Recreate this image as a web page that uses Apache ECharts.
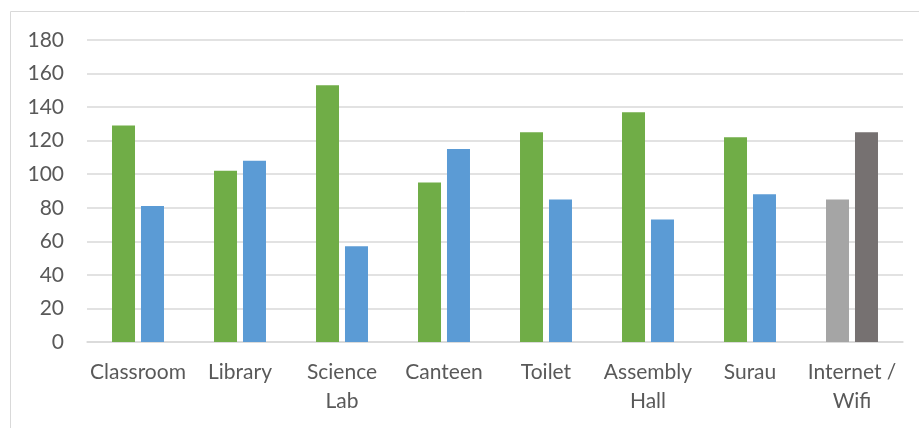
<!DOCTYPE html>
<html>
<head>
<meta charset="utf-8">
<script src="https://cdn.jsdelivr.net/npm/echarts@6/dist/echarts.min.js"></script>
<style>html,body{margin:0;padding:0;background:#fff;}#c{width:919px;height:428px;}</style>
</head>
<body>
<div id="c"></div>
<script>
var categories = ['Classroom', 'Library', 'Science Lab', 'Canteen', 'Toilet', 'Assembly Hall', 'Surau', 'Internet / Wifi'];
var series1Values = [129, 102, 153, 95, 125, 137, 122, 85];
var series2Values = [81, 108, 57, 115, 85, 73, 88, 125];
var series1Colors = ['#70AD47', '#70AD47', '#70AD47', '#70AD47', '#70AD47', '#70AD47', '#70AD47', '#A5A5A5'];
var series2Colors = ['#5B9BD5', '#5B9BD5', '#5B9BD5', '#5B9BD5', '#5B9BD5', '#5B9BD5', '#5B9BD5', '#767171'];
var yTicks = { min: 0, max: 180, interval: 20 };

function build(values, colors) {
  return values.map(function (v, i) { return { value: v, itemStyle: { color: colors[i] } }; });
}

var chart = echarts.init(document.getElementById('c'));
chart.setOption({
  animation: false,
  textStyle: { fontFamily: 'Lato' },
  graphic: [{
    type: 'rect', shape: { x: 10.5, y: 11.5, width: 1000, height: 1000 },
    style: { fill: 'none', stroke: '#D9D9D9', lineWidth: 1 }, silent: true
  }],
  grid: { left: 87, right: 16, top: 40, bottom: 86 },
  xAxis: {
    type: 'category', data: categories,
    axisLine: { lineStyle: { color: '#D9D9D9', width: 1.5 } },
    axisTick: { show: false },
    axisLabel: {
      color: '#595959', fontSize: 21, margin: 16, lineHeight: 29, interval: 0,
      formatter: function (s) { var i = s.lastIndexOf(' '); return i > 0 ? s.slice(0, i) + '\n' + s.slice(i + 1) : s; }
    }
  },
  yAxis: {
    type: 'value', min: yTicks.min, max: yTicks.max, interval: yTicks.interval,
    axisLine: { show: false }, axisTick: { show: false },
    axisLabel: { color: '#595959', fontSize: 21, margin: 23 },
    splitLine: { lineStyle: { color: '#D9D9D9', width: 1.5 } }
  },
  series: [
    { name: 'Series 1', type: 'bar', data: build(series1Values, series1Colors), barWidth: 23, barGap: '26%' },
    { name: 'Series 2', type: 'bar', data: build(series2Values, series2Colors), barWidth: 23, barGap: '26%' }
  ]
});
</script>
</body>
</html>
